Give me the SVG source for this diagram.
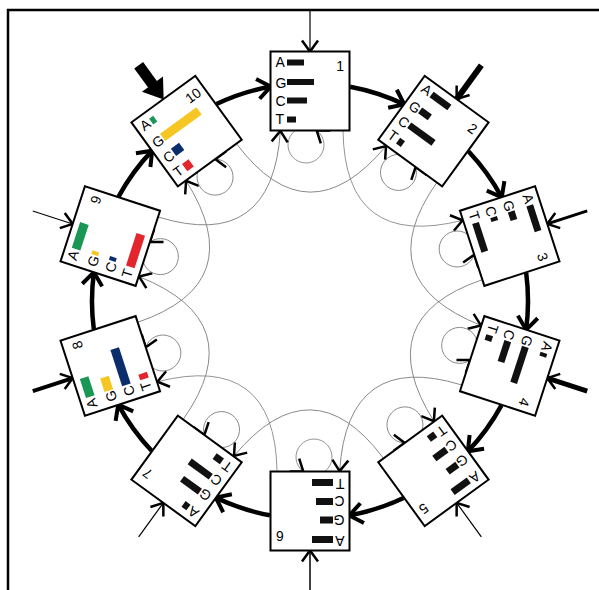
<svg xmlns="http://www.w3.org/2000/svg" width="599" height="590" viewBox="0 0 599 590">
<style>
.box{fill:#fff;stroke:#000;stroke-width:2}
.lt{font-family:"Liberation Sans",Arial,sans-serif;font-size:14px;fill:#000}
.num{font-family:"Liberation Sans",Arial,sans-serif;font-size:14px;fill:#000;text-anchor:end}
.k{fill:#111}
.gA{fill:#1a9655}.gG{fill:#f6c624}.gC{fill:#0b2d6b}.gT{fill:#e3262e}
.hv{fill:none;stroke:#000;stroke-width:4.5;marker-end:url(#ahH)}
.thin{fill:none;stroke:#888;stroke-width:0.9;marker-end:url(#ah)}
.ext{fill:none;stroke:#000;marker-end:url(#ah)}
</style>
<defs>
<marker id="ah" viewBox="-14 -10 16 20" refX="0" refY="0" markerWidth="16" markerHeight="20" markerUnits="userSpaceOnUse" orient="auto" overflow="visible"><path d="M-11,-8 L0,0 L-11,8" fill="none" stroke="#000" stroke-width="2.5"/></marker>
<marker id="ahH" viewBox="-16 -12 18 24" refX="0" refY="0" markerWidth="18" markerHeight="24" markerUnits="userSpaceOnUse" orient="auto" overflow="visible"><path d="M-13,-10 L0,0 L-13,10" fill="none" stroke="#000" stroke-width="4"/></marker>
</defs>
<rect width="599" height="590" fill="#fff"/>
<path d="M8 590 L8 10 L599 10" fill="none" stroke="#000" stroke-width="2.5"/>

<g id="connectors">
<g transform="rotate(0 310 301)">
<path class="ext" d="M310 9.5 L310 51.5" stroke-width="1.2"/>
<path class="hv" d="M350.1 86.7 A218 218 0 0 1 404.2 104.4"/>
<path class="thin" d="M295.3 130.5 A18 18 0 1 0 316.7 130.5"/>
<path class="thin" d="M343 131 Q345 250 462.6 220.3" stroke="#000" stroke-width="1.8"/>
</g>
<g transform="rotate(36 310 301)">
<path class="ext" d="M310 9.5 L310 51.5" stroke-width="6" marker-end="url(#ahH)"/>
<path class="hv" d="M350.1 86.7 A218 218 0 0 1 404.2 104.4"/>
<path class="thin" d="M295.3 130.5 A18 18 0 1 0 316.7 130.5" stroke="#000" stroke-width="3"/>
<path class="thin" d="M343 131 Q345 250 462.6 220.3"/>
</g>
<g transform="rotate(72 310 301)">
<path class="ext" d="M310 9.5 L310 51.5" stroke-width="3"/>
<path class="hv" d="M350.1 86.7 A218 218 0 0 1 404.2 104.4"/>
<path class="thin" d="M295.3 130.5 A18 18 0 1 0 316.7 130.5"/>
<path class="thin" d="M343 131 Q345 250 462.6 220.3"/>
</g>
<g transform="rotate(108 310 301)">
<path class="ext" d="M310 9.5 L310 51.5" stroke-width="5" marker-end="url(#ahH)"/>
<path class="hv" d="M350.1 86.7 A218 218 0 0 1 404.2 104.4"/>
<path class="thin" d="M295.3 130.5 A18 18 0 1 0 316.7 130.5"/>
<path class="thin" d="M343 131 Q345 250 462.6 220.3" stroke="#000" stroke-width="1.5"/>
</g>
<g transform="rotate(144 310 301)">
<path class="ext" d="M310 9.5 L310 51.5" stroke-width="1.2"/>
<path class="hv" d="M350.1 86.7 A218 218 0 0 1 404.2 104.4"/>
<path class="thin" d="M295.3 130.5 A18 18 0 1 0 316.7 130.5"/>
<path class="thin" d="M343 131 Q345 250 462.6 220.3"/>
</g>
<g transform="rotate(180 310 301)">
<path class="ext" d="M310 9.5 L310 51.5" stroke-width="1.5"/>
<path class="hv" d="M350.1 86.7 A218 218 0 0 1 404.2 104.4"/>
<path class="thin" d="M295.3 130.5 A18 18 0 1 0 316.7 130.5"/>
<path class="thin" d="M343 131 Q345 250 462.6 220.3"/>
</g>
<g transform="rotate(216 310 301)">
<path class="ext" d="M310 9.5 L310 51.5" stroke-width="1.2"/>
<path class="hv" d="M350.1 86.7 A218 218 0 0 1 404.2 104.4"/>
<path class="thin" d="M295.3 130.5 A18 18 0 1 0 316.7 130.5"/>
<path class="thin" d="M343 131 Q345 250 462.6 220.3"/>
</g>
<g transform="rotate(252 310 301)">
<path class="ext" d="M310 9.5 L310 51.5" stroke-width="4" marker-end="url(#ahH)"/>
<path class="hv" d="M350.1 86.7 A218 218 0 0 1 404.2 104.4"/>
<path class="thin" d="M295.3 130.5 A18 18 0 1 0 316.7 130.5"/>
<path class="thin" d="M343 131 Q345 250 462.6 220.3"/>
</g>
<g transform="rotate(288 310 301)">
<path class="ext" d="M310 9.5 L310 51.5" stroke-width="1"/>
<path class="hv" d="M350.1 86.7 A218 218 0 0 1 404.2 104.4"/>
<path class="thin" d="M295.3 130.5 A18 18 0 1 0 316.7 130.5"/>
<path class="thin" d="M343 131 Q345 250 462.6 220.3"/>
</g>
<g transform="rotate(324 310 301)">
<path d="M310 9.5 L310 36" stroke="#000" stroke-width="11" fill="none"/>
<path d="M297 33 L323 33 L310 52 Z" fill="#000"/>
<path class="hv" d="M350.1 86.7 A218 218 0 0 1 404.2 104.4"/>
<path class="thin" d="M295.3 130.5 A18 18 0 1 0 316.7 130.5"/>
<path class="thin" d="M343 131 Q345 250 462.6 220.3"/>
</g>
</g>

<g id="node-1" transform="rotate(0 310 301)">
<rect class="box" x="270.5" y="51.5" width="79" height="79"/>
<text class="lt" x="275.5" y="66.5">A</text><text class="lt" x="275.5" y="87.5">G</text><text class="lt" x="275.5" y="106">C</text><text class="lt" x="275.5" y="123.5">T</text>
<rect class="k" x="287" y="59.5" width="17" height="6"/><rect class="k" x="287" y="79" width="27" height="6"/><rect class="k" x="287" y="97.5" width="20" height="6"/><rect class="k" x="287" y="116.5" width="9" height="6"/>
<text class="num" x="344" y="71">1</text>
</g>
<g id="node-2" transform="rotate(36 310 301)">
<rect class="box" x="270.5" y="51.5" width="79" height="79"/>
<text class="lt" x="275.5" y="66.5">A</text><text class="lt" x="275.5" y="87.5">G</text><text class="lt" x="275.5" y="106">C</text><text class="lt" x="275.5" y="123.5">T</text>
<rect class="k" x="287" y="59" width="22" height="7"/><rect class="k" x="287" y="78.5" width="12" height="7"/><rect class="k" x="287" y="97" width="30" height="7"/><rect class="k" x="287" y="116" width="6" height="7"/>
<text class="num" x="344" y="71">2</text>
</g>
<g id="node-3" transform="rotate(72 310 301)">
<rect class="box" x="270.5" y="51.5" width="79" height="79"/>
<text class="lt" x="275.5" y="66.5">A</text><text class="lt" x="275.5" y="87.5">G</text><text class="lt" x="275.5" y="106">C</text><text class="lt" x="275.5" y="123.5">T</text>
<rect class="k" x="287" y="59" width="27" height="7"/><rect class="k" x="287" y="78.5" width="9" height="7"/><rect class="k" x="287" y="97" width="4" height="7"/><rect class="k" x="287" y="116" width="30" height="7"/>
<text class="num" x="344" y="71">3</text>
</g>
<g id="node-4" transform="rotate(108 310 301)">
<rect class="box" x="270.5" y="51.5" width="79" height="79"/>
<text class="lt" x="275.5" y="66.5">A</text><text class="lt" x="275.5" y="87.5">G</text><text class="lt" x="275.5" y="106">C</text><text class="lt" x="275.5" y="123.5">T</text>
<rect class="k" x="287" y="59" width="4" height="7"/><rect class="k" x="287" y="78.5" width="38" height="7"/><rect class="k" x="287" y="97" width="22" height="7"/><rect class="k" x="287" y="116" width="6" height="7"/>
<text class="num" x="344" y="71">4</text>
</g>
<g id="node-5" transform="rotate(144 310 301)">
<rect class="box" x="270.5" y="51.5" width="79" height="79"/>
<text class="lt" x="275.5" y="66.5">A</text><text class="lt" x="275.5" y="87.5">G</text><text class="lt" x="275.5" y="106">C</text><text class="lt" x="275.5" y="123.5">T</text>
<rect class="k" x="287" y="59" width="20" height="7"/><rect class="k" x="287" y="78.5" width="12" height="7"/><rect class="k" x="287" y="97" width="15" height="7"/><rect class="k" x="287" y="116" width="8" height="7"/>
<text class="num" x="344" y="71">5</text>
</g>
<g id="node-6" transform="rotate(180 310 301)">
<rect class="box" x="270.5" y="51.5" width="79" height="79"/>
<text class="lt" x="275.5" y="66.5">A</text><text class="lt" x="275.5" y="87.5">G</text><text class="lt" x="275.5" y="106">C</text><text class="lt" x="275.5" y="123.5">T</text>
<rect class="k" x="287" y="59" width="21" height="7"/><rect class="k" x="287" y="78.5" width="13" height="7"/><rect class="k" x="287" y="97" width="17" height="7"/><rect class="k" x="287" y="116" width="21" height="7"/>
<text class="num" x="344" y="71">6</text>
</g>
<g id="node-7" transform="rotate(216 310 301)">
<rect class="box" x="270.5" y="51.5" width="79" height="79"/>
<text class="lt" x="275.5" y="66.5">A</text><text class="lt" x="275.5" y="87.5">G</text><text class="lt" x="275.5" y="106">C</text><text class="lt" x="275.5" y="123.5">T</text>
<rect class="k" x="287" y="59" width="6" height="7"/><rect class="k" x="287" y="78.5" width="22" height="7"/><rect class="k" x="287" y="97" width="26" height="7"/><rect class="k" x="287" y="116" width="9" height="7"/>
<text class="num" x="344" y="71">7</text>
</g>
<g id="node-8" transform="rotate(252 310 301)">
<rect class="box" x="270.5" y="51.5" width="79" height="79"/>
<text class="lt" x="275.5" y="66.5">A</text><text class="lt" x="275.5" y="87.5">G</text><text class="lt" x="275.5" y="106">C</text><text class="lt" x="275.5" y="123.5">T</text>
<rect class="gA" x="287" y="58" width="20" height="9"/><rect class="gG" x="287" y="77.5" width="14" height="9"/><rect class="gC" x="287" y="96" width="38" height="9"/><rect class="gT" x="287" y="115" width="6" height="9"/>
<text class="num" x="344" y="71">8</text>
</g>
<g id="node-9" transform="rotate(288 310 301)">
<rect class="box" x="270.5" y="51.5" width="79" height="79"/>
<text class="lt" x="275.5" y="66.5">A</text><text class="lt" x="275.5" y="87.5">G</text><text class="lt" x="275.5" y="106">C</text><text class="lt" x="275.5" y="123.5">T</text>
<rect class="gA" x="287" y="58" width="27" height="9"/><rect class="gG" x="287" y="78.5" width="4" height="7"/><rect class="gC" x="287" y="97" width="4" height="7"/><rect class="gT" x="287" y="115" width="34" height="9"/>
<text class="num" x="344" y="71">9</text>
</g>
<g id="node-10" transform="rotate(324 310 301)">
<rect class="box" x="270.5" y="51.5" width="79" height="79"/>
<text class="lt" x="275.5" y="66.5">A</text><text class="lt" x="275.5" y="87.5">G</text><text class="lt" x="275.5" y="106">C</text><text class="lt" x="275.5" y="123.5">T</text>
<rect class="gA" x="287" y="59" width="5" height="7"/><rect class="gG" x="287" y="77.5" width="45" height="9"/><rect class="gC" x="287" y="96" width="10" height="9"/><rect class="gT" x="287" y="115" width="8" height="9"/>
<text class="num" x="344" y="71">10</text>
</g>
</svg>
